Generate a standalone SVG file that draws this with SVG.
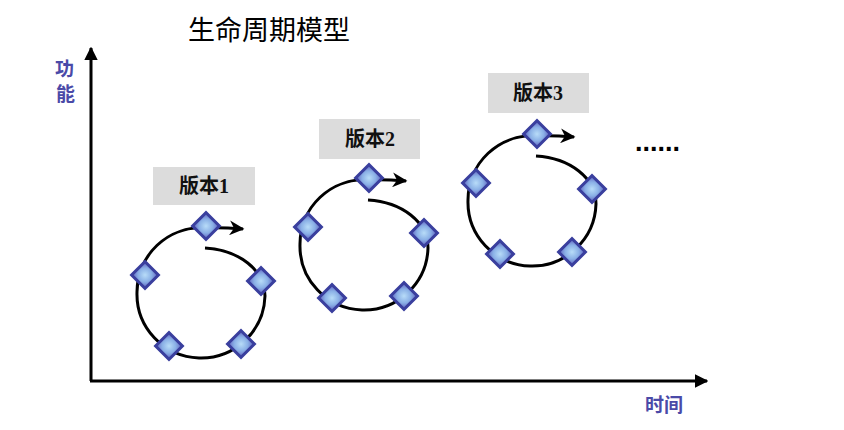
<svg xmlns="http://www.w3.org/2000/svg" width="844" height="430" viewBox="0 0 844 430">
<defs>
<radialGradient id="dg" cx="50%" cy="50%" r="60%">
<stop offset="0" stop-color="#b8dcf8"/>
<stop offset="0.6" stop-color="#8ab0e6"/>
<stop offset="1" stop-color="#6a74c8"/>
</radialGradient>
<marker id="ah" viewBox="0 0 10 10" refX="9" refY="5" markerWidth="5" markerHeight="5" orient="auto" markerUnits="strokeWidth">
<path d="M0,0 L10,5 L0,10 L3,5 Z" fill="#000"/>
</marker>
<marker id="axh" viewBox="0 0 10 10" refX="9" refY="5" markerWidth="4.5" markerHeight="4.5" orient="auto" markerUnits="strokeWidth">
<path d="M0,0 L10,5 L0,10 Z" fill="#000"/>
</marker>
<g id="dia"><rect x="-9.5" y="-9.5" width="19" height="19" transform="rotate(45)" fill="url(#dg)" stroke="#3a3f9e" stroke-width="3"/></g>
<g id="cycle">
<path d="M4,-44 C38,-42 64,-22 64,4 A64,64 0 0 1 -64,0 A64,64 0 0 1 4,-64 C18,-65 30,-64 42,-63" fill="none" stroke="#000" stroke-width="3" marker-end="url(#ah)"/>
<use href="#dia" x="5" y="-66"/>
<use href="#dia" x="-56" y="-17"/>
<use href="#dia" x="60" y="-11"/>
<use href="#dia" x="-32" y="54"/>
<use href="#dia" x="40" y="52"/>
</g>
</defs>
<style>
.lbl{fill:#dcdcdc}
.lt{font-family:"Liberation Serif","Noto Sans CJK SC",serif;font-weight:bold;font-size:20px;fill:#111;text-anchor:middle}
.ax{font-family:"Noto Sans CJK SC",sans-serif;font-weight:bold;font-size:19px;fill:#4a4aa8}
</style>
<text x="188" y="40" font-family="Noto Sans CJK SC, sans-serif" font-size="27" fill="#000">生命周期模型</text>
<g id="axes">
<line x1="91" y1="381" x2="91" y2="48" stroke="#000" stroke-width="3" marker-end="url(#axh)"/>
<line x1="90" y1="381" x2="707" y2="381" stroke="#000" stroke-width="3" marker-end="url(#axh)"/>
</g>
<text class="ax" x="55" y="76">功</text>
<text class="ax" x="56" y="101">能</text>
<text class="ax" x="645" y="412">时间</text>
<g id="v1">
<rect class="lbl" x="153" y="167" width="102" height="38"/>
<text class="lt" x="204" y="193">版本1</text>
<use href="#cycle" x="201" y="292"/>
</g>
<g id="v2">
<rect class="lbl" x="319" y="119" width="101" height="40"/>
<text class="lt" x="370" y="146">版本2</text>
<use href="#cycle" x="364" y="244"/>
</g>
<g id="v3">
<rect class="lbl" x="488" y="73" width="101" height="40"/>
<text class="lt" x="538" y="100">版本3</text>
<use href="#cycle" x="532" y="200"/>
</g>
<text x="635" y="151" font-family="Liberation Sans, sans-serif" font-weight="bold" font-size="27" fill="#000">......</text>
</svg>
